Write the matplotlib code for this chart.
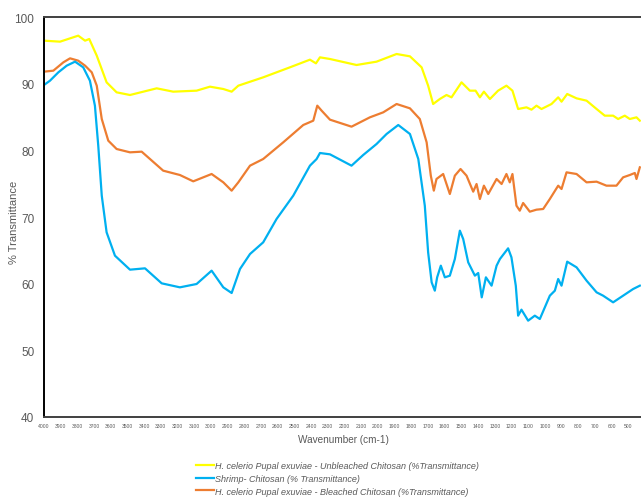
import matplotlib
matplotlib.use("Agg")
import matplotlib.pyplot as plt
from matplotlib.lines import Line2D

plt.rcParams["font.family"] = ["Liberation Sans", "DejaVu Sans"]

# FTIR spectra, wavenumber (cm-1) vs % transmittance
unbleached_wn = [4000, 3904, 3795, 3754, 3729, 3684, 3625, 3565, 3485, 3325,
                 3226, 3086, 3006, 2926, 2876, 2836, 2687, 2527, 2407, 2371,
                 2347, 2287, 2128, 2008, 1888, 1808, 1738, 1699, 1669, 1629,
                 1589, 1559, 1499, 1449, 1415, 1389, 1365, 1329, 1280, 1230,
                 1194, 1160, 1110, 1080, 1050, 1020, 960, 920, 900, 866,
                 810, 750, 690, 641, 591, 561, 521, 491, 451, 431]
unbleached_t = [96.45, 96.3, 97.2, 96.45, 96.7, 94.2, 90.2, 88.7, 88.3, 89.3,
                88.8, 88.95, 89.55, 89.2, 88.8, 89.7, 90.95, 92.45, 93.6, 93.05,
                93.95, 93.7, 92.8, 93.3, 94.45, 94.1, 92.45, 89.7, 86.95, 87.7,
                88.3, 87.95, 90.2, 88.95, 88.95, 87.95, 88.8, 87.7, 88.95, 89.7,
                88.95, 86.2, 86.45, 86.1, 86.7, 86.2, 86.95, 87.95, 87.3, 88.45,
                87.8, 87.45, 86.2, 85.2, 85.2, 84.7, 85.2, 84.7, 84.95, 84.45]

shrimp_wn = [4000, 3964, 3914, 3864, 3814, 3765, 3725, 3695, 3675, 3654,
             3625, 3575, 3485, 3395, 3295, 3186, 3086, 2996, 2926, 2876,
             2826, 2766, 2687, 2607, 2507, 2407, 2367, 2347, 2287, 2158,
             2088, 2008, 1948, 1878, 1808, 1758, 1719, 1699, 1678, 1659,
             1645, 1623, 1599, 1569, 1539, 1509, 1489, 1459, 1419, 1399,
             1378, 1353, 1319, 1289, 1269, 1220, 1200, 1174, 1160, 1140,
             1100, 1060, 1030, 970, 940, 920, 900, 866, 810, 750,
             690, 651, 591, 531, 471, 431]
shrimp_t = [89.8, 90.45, 91.7, 92.7, 93.3, 92.45, 90.45, 86.7, 80.7, 73.2,
            67.7, 64.2, 62.1, 62.3, 60.05, 59.45, 59.95, 61.95, 59.45, 58.6,
            62.2, 64.45, 66.2, 69.7, 73.2, 77.7, 78.7, 79.6, 79.4, 77.7,
            79.3, 80.95, 82.45, 83.8, 82.45, 78.7, 71.7, 64.7, 60.2, 58.95,
            60.95, 62.7, 60.95, 61.2, 63.7, 67.95, 66.7, 63.2, 61.2, 61.6,
            57.95, 60.95, 59.7, 62.7, 63.7, 65.3, 63.95, 59.7, 55.2, 56.1,
            54.45, 55.2, 54.7, 58.2, 58.95, 60.7, 59.7, 63.3, 62.45, 60.45,
            58.7, 58.2, 57.2, 58.2, 59.2, 59.7]

bleached_wn = [4000, 3944, 3884, 3844, 3795, 3754, 3714, 3684, 3654, 3615,
               3565, 3485, 3415, 3286, 3186, 3106, 2996, 2926, 2876, 2836,
               2766, 2687, 2567, 2447, 2387, 2363, 2337, 2287, 2158, 2048,
               1968, 1888, 1808, 1749, 1708, 1683, 1665, 1649, 1609, 1569,
               1539, 1505, 1469, 1429, 1409, 1389, 1365, 1339, 1289, 1259,
               1230, 1210, 1194, 1170, 1150, 1130, 1090, 1050, 1010, 970,
               920, 900, 870, 810, 750, 690, 631, 571, 531, 491,
               461, 451, 431]
bleached_t = [91.8, 91.95, 93.2, 93.8, 93.45, 92.7, 91.7, 89.7, 84.7, 81.45,
              80.2, 79.7, 79.8, 76.95, 76.3, 75.35, 76.45, 75.2, 73.95, 75.2,
              77.7, 78.7, 81.2, 83.8, 84.45, 86.7, 85.95, 84.6, 83.55, 84.95,
              85.7, 86.95, 86.3, 84.7, 81.2, 76.2, 73.95, 75.7, 76.45, 73.45,
              76.2, 77.2, 76.2, 73.8, 74.95, 72.7, 74.7, 73.45, 75.7, 74.95,
              76.45, 75.2, 76.45, 71.7, 70.95, 72.1, 70.8, 71.1, 71.2, 72.7,
              74.7, 74.2, 76.7, 76.45, 75.2, 75.3, 74.7, 74.7, 75.95, 76.3,
              76.6, 75.7, 77.45]

labels = [
    "H. celerio Pupal exuviae - Unbleached Chitosan (%Transmittance)",
    "Shrimp- Chitosan (% Transmittance)",
    "H. celerio Pupal exuviae - Bleached Chitosan (%Transmittance)",
]
colors = ["#FFFF00", "#00B0F0", "#ED7D31"]

x_ticks = list(range(4000, 399, -100))
y_ticks = [40, 50, 60, 70, 80, 90, 100]

LW = 1.6
W, H = 641, 502
fig = plt.figure(figsize=(W / 100, H / 100), dpi=100)
# plot area runs past the right edge of the canvas
ax = fig.add_axes([44 / W, 1 - 418 / H, 601 / W, 400 / H])

ax.plot(unbleached_wn, unbleached_t, color=colors[0], lw=LW)
ax.plot(bleached_wn, bleached_t, color=colors[2], lw=LW)
ax.plot(shrimp_wn, shrimp_t, color=colors[1], lw=LW)

ax.set_xlim(4000, 400)
ax.set_ylim(40, 100)
ax.set_xticks(x_ticks)
ax.set_xticklabels([str(v) for v in x_ticks], fontsize=3.6, color="#595959")
ax.set_yticks(y_ticks)
ax.set_yticklabels([str(v) for v in y_ticks], fontsize=8.5, color="#595959")
ax.tick_params(axis="both", length=0)
ax.tick_params(axis="x", pad=4)
ax.tick_params(axis="y", pad=7)

for side in ("left", "bottom", "top"):
    ax.spines[side].set_color("#404040")
    ax.spines[side].set_linewidth(1.4)
ax.spines["left"].set_color("black")
ax.spines["right"].set_visible(False)

fig.text(14 / W, 1 - 222 / H, "% Transmittance", rotation=90,
         ha="center", va="center", fontsize=8, color="#595959")
fig.text(343 / W, 1 - 440 / H, "Wavenumber (cm-1)",
         ha="center", va="center", fontsize=7.2, color="#595959")

handles = [Line2D([], [], color=colors[i], lw=LW) for i in range(3)]
leg = fig.legend(handles, labels, loc="upper left",
                 bbox_to_anchor=(196 / W, 1 - 462 / H), frameon=False,
                 prop={"size": 6.5, "style": "italic"},
                 handlelength=2.0, handletextpad=0.1, labelspacing=0.42,
                 borderpad=0, borderaxespad=0)
for t in leg.get_texts():
    t.set_color("#595959")

fig.savefig("out.png", dpi=100, facecolor="white")
